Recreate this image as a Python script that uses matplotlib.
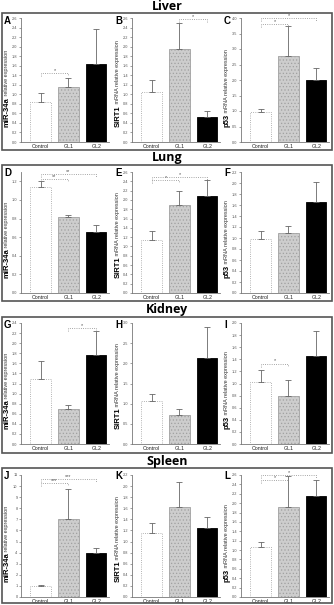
import numpy as np
import matplotlib
matplotlib.use("Agg")
import matplotlib.pyplot as plt
from matplotlib.patches import Rectangle

plt.rcParams['font.family'] = ['Liberation Sans', 'DejaVu Sans']
plt.rcParams['hatch.linewidth'] = 0.5

groups = ["Control", "GL1", "GL2"]

# organ sections, top to bottom
organs = ["Liver", "Lung", "Kidney", "Spleen"]
letters = ["A", "B", "C", "D", "E", "F", "G", "H", "I", "J", "K", "L"]

# bar means and upper SEM, one list per panel
liver_mir34a = [0.84, 1.16, 1.63]
liver_mir34a_err = [0.19, 0.19, 0.73]
liver_sirt1 = [1.05, 1.95, 0.52]
liver_sirt1_err = [0.24, 0.55, 0.14]
liver_p53 = [0.98, 2.79, 2.0]
liver_p53_err = [0.10, 0.95, 0.40]

lung_mir34a = [1.14, 0.82, 0.66]
lung_mir34a_err = [0.06, 0.02, 0.07]
lung_sirt1 = [1.13, 1.90, 2.08]
lung_sirt1_err = [0.20, 0.30, 0.34]
lung_p53 = [0.98, 1.10, 1.66]
lung_p53_err = [0.14, 0.12, 0.36]

kidney_mir34a = [1.28, 0.69, 1.77]
kidney_mir34a_err = [0.36, 0.08, 0.48]
kidney_sirt1 = [1.06, 0.71, 2.13]
kidney_sirt1_err = [0.18, 0.15, 0.77]
kidney_p53 = [1.02, 0.79, 1.45]
kidney_p53_err = [0.21, 0.26, 0.42]

spleen_mir34a = [1.0, 7.0, 4.0]
spleen_mir34a_err = [0.1, 2.75, 0.45]
spleen_sirt1 = [1.15, 1.62, 1.24]
spleen_sirt1_err = [0.18, 0.45, 0.20]
spleen_p53 = [1.07, 1.92, 2.16]
spleen_p53_err = [0.11, 0.65, 0.34]

# y-axis top and tick step per panel
y_tops = [2.6, 2.6, 4.0, 1.3, 2.6, 2.2, 2.4, 3.0, 2.0, 11, 2.2, 2.6]
y_steps = [0.2, 0.2, 0.5, 0.2, 0.2, 0.2, 0.2, 0.5, 0.2, 1, 0.2, 0.2]

# significance brackets per panel: (first group, second group, height, label)
brackets = [
    [(0, 1, 1.44, "*")],
    [(1, 2, 2.58, "*")],
    [(0, 1, 3.8, "*"), (0, 2, 4.0, "*")],
    [(0, 1, 1.22, "**"), (0, 2, 1.28, "**")],
    [(0, 1, 2.42, "*"), (0, 2, 2.50, "*")],
    [],
    [(1, 2, 2.30, "*")],
    [],
    [(0, 1, 1.33, "*")],
    [(0, 1, 10.3, "***"), (0, 2, 10.65, "***")],
    [],
    [(0, 1, 2.50, "*"), (0, 2, 2.60, "*")],
]

means = [liver_mir34a, liver_sirt1, liver_p53, lung_mir34a, lung_sirt1, lung_p53,
         kidney_mir34a, kidney_sirt1, kidney_p53, spleen_mir34a, spleen_sirt1, spleen_p53]
errs = [liver_mir34a_err, liver_sirt1_err, liver_p53_err, lung_mir34a_err, lung_sirt1_err,
        lung_p53_err, kidney_mir34a_err, kidney_sirt1_err, kidney_p53_err,
        spleen_mir34a_err, spleen_sirt1_err, spleen_p53_err]
genes = [("miR-34a", " relative expression"),
         ("SIRT1", " mRNA relative expression"),
         ("p53", " mRNA relative expression")]

W, H = 334, 605
fig = plt.figure(figsize=(W / 100, H / 100), dpi=100)

# pixel layout of the four sections
box_px = [(13, 150), (165, 301), (317, 453), (468, 603)]
title_px = [7, 158, 309, 461]
axis_px = [(18, 142), (172, 293), (323, 444), (475, 597)]
lefts_px = [21, 132, 241]
ax_w = 88

for r in range(4):
    y0, y1 = box_px[r]
    fig.patches.append(Rectangle((2 / W, 1 - y1 / H), 330 / W, (y1 - y0) / H,
                                 transform=fig.transFigure, fill=False,
                                 edgecolor='#555555', linewidth=1.2))
    fig.text(0.5, 1 - title_px[r] / H, organs[r], ha='center', va='center',
             fontsize=9, fontweight='bold', family=['Open Sans', 'DejaVu Sans'])

face = ['white', '#cdcdcd', 'black']
edge = ['#9a9a9a', '#a0a0a0', 'black']
hatch = [None, '.....', None]
x = np.arange(3)
renderer = fig.canvas.get_renderer()

for i in range(12):
    r, c = divmod(i, 3)
    top, bot = axis_px[r]
    ax = fig.add_axes([lefts_px[c] / W, 1 - bot / H, ax_w / W, (bot - top) / H])
    for k in range(3):
        ax.bar(x[k], means[i][k], width=0.72, color=face[k], edgecolor=edge[k],
               hatch=hatch[k], linewidth=0.6, linestyle=':' if k == 0 else '-')
    ax.errorbar(x, means[i], yerr=[np.zeros(3), errs[i]], fmt='none', ecolor='#666666',
                elinewidth=0.6, capsize=2, capthick=0.6)
    ax.set_xlim(-0.7, 2.45)
    ax.set_ylim(0, y_tops[i])
    ax.set_yticks(np.arange(0, y_tops[i] + 1e-6, y_steps[i]))
    if y_steps[i] >= 1:
        ax.set_yticklabels([f"{v:.0f}" for v in ax.get_yticks()])
    else:
        ax.set_yticklabels([f"{v:.1f}" for v in ax.get_yticks()])
    ax.set_xticks(x)
    ax.set_xticklabels(groups)
    ax.tick_params(axis='y', labelsize=2.8, length=1.5, width=0.4, pad=1, colors='#555555')
    ax.tick_params(axis='x', labelsize=3.8, length=0, pad=1.5, labelcolor='#222222')
    for s in ['top', 'right']:
        ax.spines[s].set_visible(False)
    for s in ['left', 'bottom']:
        ax.spines[s].set_color('#777777')
        ax.spines[s].set_linewidth(0.6)

    for g1, g2, h, lab in brackets[i]:
        d = y_tops[i] * 0.025
        ax.plot([g1, g1, g2, g2], [h - d, h, h, h - d], color='#888888', lw=0.6,
                linestyle=':', clip_on=False)
        ax.text((g1 + g2) / 2, h, lab, ha='center', va='bottom', fontsize=4,
                color='#555555', clip_on=False)

    # y label: bold gene name followed by smaller text
    bold, rest = genes[c]
    t1 = ax.text(-0.16, 0.12, bold, rotation=90, transform=ax.transAxes,
                 ha='center', va='bottom', fontsize=5.5, fontweight='bold')
    bb = t1.get_window_extent(renderer)
    ytop = ax.transAxes.inverted().transform((0, bb.y1))[1]
    ax.text(-0.16, ytop, rest, rotation=90, transform=ax.transAxes,
            ha='center', va='bottom', fontsize=4, color='#333333')

    fig.text((lefts_px[c] - 17) / W, 1 - (box_px[r][0] + 8) / H, letters[i],
             ha='left', va='center', fontsize=7, fontweight='bold')

fig.savefig("out.png", dpi=100)
